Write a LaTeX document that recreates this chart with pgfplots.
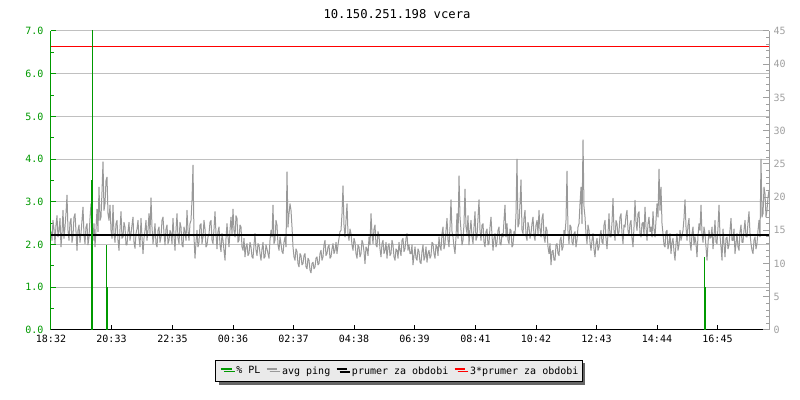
\documentclass[border=0pt]{standalone}
\usepackage{pgfplots}
\pgfplotsset{compat=1.18}
\usepackage{pgfplotstable}
\usepackage{fontspec}
\setmainfont{DejaVu Sans Mono}
\usetikzlibrary{shadows}
\definecolor{plgreen}{HTML}{009900}
\definecolor{pinggray}{HTML}{999999}
\definecolor{gridgray}{HTML}{C0C0C0}
\definecolor{axgray}{HTML}{A0A0A0}
\definecolor{legendbg}{HTML}{EAEAEA}
\definecolor{shadowgray}{HTML}{666666}

\pgfplotstableread[row sep=\\]{v\\
14.8\\13.5\\16.5\\15.2\\13.0\\15.8\\17.2\\14.0\\15.0\\16.8\\12.5\\14.6\\18.0\\13.8\\15.5\\17.6\\20.3\\15.0\\13.5\\16.2\\16.8\\13.2\\14.2\\17.0\\17.5\\14.8\\12.0\\15.0\\15.8\\13.2\\14.5\\16.5\\18.5\\14.2\\13.0\\15.5\\16.0\\12.8\\14.0\\16.8\\19.0\\15.5\\13.5\\16.0\\12.5\\15.2\\18.2\\14.8\\21.5\\16.5\\17.0\\20.8\\25.3\\18.0\\19.0\\22.5\\23.0\\17.5\\16.5\\18.8\\
15.0\\13.8\\18.8\\14.5\\13.2\\16.0\\16.5\\13.5\\12.0\\15.2\\17.8\\13.8\\14.0\\16.2\\15.5\\12.8\\12.8\\14.8\\16.2\\13.5\\14.5\\15.8\\17.0\\13.2\\12.3\\14.5\\15.2\\16.5\\13.8\\12.5\\16.8\\14.0\\11.5\\13.8\\15.0\\16.5\\13.5\\15.0\\17.5\\14.5\\19.9\\15.5\\13.0\\14.2\\16.0\\13.0\\12.5\\15.0\\15.5\\13.2\\14.0\\16.5\\17.0\\14.5\\12.8\\15.2\\15.8\\13.0\\13.5\\15.0\\
14.5\\13.0\\16.8\\14.2\\12.0\\15.0\\17.5\\13.8\\13.0\\16.2\\15.5\\12.8\\12.5\\15.5\\14.8\\13.5\\18.0\\15.0\\13.5\\16.0\\16.5\\19.5\\24.8\\14.0\\10.8\\13.2\\15.0\\12.5\\13.2\\15.8\\16.0\\13.0\\14.0\\16.5\\15.2\\12.5\\12.8\\14.0\\14.5\\16.2\\16.5\\13.5\\13.0\\15.2\\17.8\\14.5\\12.2\\14.8\\15.5\\12.8\\11.8\\14.5\\13.5\\12.0\\10.5\\13.8\\16.0\\14.0\\12.5\\15.0\\
17.0\\14.5\\18.2\\15.0\\14.0\\17.2\\16.8\\13.2\\13.5\\15.8\\15.5\\12.5\\12.0\\13.8\\11.0\\12.5\\13.0\\11.2\\11.5\\13.2\\12.5\\11.0\\10.8\\12.8\\14.5\\12.0\\11.2\\13.0\\12.8\\11.5\\10.5\\12.2\\13.2\\10.8\\11.0\\12.8\\12.2\\11.5\\10.8\\13.5\\15.0\\14.0\\18.8\\13.0\\13.5\\16.5\\15.8\\12.8\\12.0\\14.0\\13.0\\11.8\\11.5\\13.2\\14.0\\12.5\\23.8\\15.5\\17.5\\19.0\\
18.0\\15.5\\12.5\\11.0\\10.5\\12.2\\11.8\\10.0\\9.5\\11.5\\11.2\\9.8\\10.0\\11.2\\11.5\\9.5\\9.2\\10.8\\10.5\\9.0\\8.6\\10.0\\10.2\\9.2\\9.5\\10.8\\11.0\\9.8\\10.0\\11.5\\12.0\\10.5\\11.0\\12.8\\13.5\\11.2\\11.5\\12.5\\12.8\\10.8\\11.0\\12.2\\13.0\\11.5\\12.0\\13.2\\11.5\\12.8\\13.8\\14.8\\15.0\\17.5\\21.7\\15.8\\14.0\\16.5\\19.0\\14.5\\13.5\\15.2\\
14.5\\12.8\\12.0\\13.8\\13.2\\11.5\\10.8\\12.8\\12.5\\11.0\\11.5\\13.5\\13.0\\11.8\\10.0\\12.5\\12.2\\11.2\\14.0\\12.8\\17.5\\14.5\\13.0\\15.2\\15.8\\12.8\\12.5\\14.8\\14.2\\12.2\\11.0\\13.0\\13.5\\11.5\\12.0\\13.2\\10.8\\12.5\\13.0\\11.2\\11.5\\13.5\\12.8\\11.0\\10.5\\12.2\\12.0\\10.8\\13.2\\12.0\\11.2\\13.5\\13.8\\11.8\\12.2\\13.8\\14.5\\12.0\\12.8\\11.5\\
11.5\\12.8\\9.8\\11.2\\12.5\\10.8\\10.5\\12.2\\11.8\\10.2\\10.0\\11.8\\12.8\\10.5\\11.0\\12.5\\10.2\\11.5\\12.0\\10.8\\11.2\\13.2\\13.0\\11.5\\10.8\\12.8\\12.5\\11.2\\14.0\\12.5\\12.0\\14.5\\15.5\\12.2\\13.0\\15.0\\16.8\\13.5\\12.5\\15.5\\19.6\\14.8\\14.0\\12.5\\11.5\\14.0\\17.5\\13.8\\23.2\\17.0\\15.0\\12.8\\13.5\\16.0\\21.2\\15.5\\14.5\\17.2\\12.8\\15.0\\
16.5\\14.0\\13.0\\15.5\\17.8\\13.5\\14.0\\16.8\\19.6\\15.0\\13.5\\15.8\\16.0\\13.2\\12.5\\14.8\\15.2\\12.8\\13.0\\15.5\\17.0\\14.2\\12.0\\13.8\\14.5\\12.5\\13.2\\15.0\\15.5\\13.0\\12.8\\14.5\\14.0\\16.5\\18.8\\14.0\\16.0\\13.5\\13.0\\15.2\\15.0\\12.5\\12.8\\14.8\\14.2\\17.5\\25.7\\15.5\\16.0\\19.0\\22.6\\15.0\\14.5\\16.8\\18.0\\14.2\\13.5\\16.2\\15.5\\13.8\\
14.5\\16.0\\17.0\\14.2\\13.5\\15.8\\16.5\\14.5\\18.0\\15.2\\14.0\\16.8\\17.5\\14.0\\13.2\\15.5\\15.0\\12.5\\11.5\\13.0\\9.8\\11.8\\12.0\\10.5\\10.5\\12.8\\13.0\\11.5\\11.2\\13.5\\14.0\\12.0\\12.5\\15.0\\14.5\\16.5\\23.9\\14.8\\13.0\\15.8\\15.5\\13.2\\12.8\\14.5\\14.8\\12.5\\13.5\\15.5\\16.0\\19.0\\21.5\\16.0\\28.6\\18.5\\17.0\\14.5\\13.0\\15.8\\15.0\\13.2\\
12.0\\13.5\\14.5\\12.2\\11.0\\13.0\\13.8\\12.0\\12.5\\14.2\\15.0\\13.2\\13.0\\15.8\\16.5\\13.8\\12.2\\14.5\\17.5\\14.0\\14.0\\16.2\\19.8\\15.0\\13.5\\16.5\\16.0\\14.2\\14.8\\17.0\\17.5\\14.5\\13.0\\15.8\\15.5\\17.2\\18.0\\15.0\\14.2\\16.0\\16.5\\13.8\\12.5\\15.5\\19.5\\16.2\\15.0\\17.5\\17.8\\14.5\\14.0\\16.0\\16.2\\14.2\\18.5\\15.5\\13.5\\16.0\\17.0\\14.8\\
15.5\\14.0\\17.8\\15.2\\14.0\\16.5\\19.0\\17.0\\24.2\\18.0\\21.5\\16.0\\14.5\\12.8\\12.5\\14.8\\15.0\\12.2\\13.0\\14.5\\11.5\\13.2\\13.8\\11.8\\10.5\\13.0\\14.5\\12.0\\12.8\\15.0\\13.5\\14.2\\15.0\\16.8\\19.6\\15.5\\13.5\\15.8\\16.8\\13.2\\12.0\\14.5\\15.5\\12.8\\14.0\\13.0\\11.0\\14.2\\16.0\\15.0\\18.8\\14.5\\13.2\\15.5\\14.5\\12.5\\10.5\\13.0\\15.0\\13.8\\
14.0\\15.5\\12.2\\14.0\\16.5\\13.2\\13.0\\15.5\\18.8\\14.2\\12.5\\10.5\\15.2\\13.0\\11.0\\13.8\\14.0\\12.2\\12.8\\15.0\\16.8\\13.5\\13.5\\15.2\\11.5\\13.0\\14.5\\12.5\\12.0\\14.8\\15.8\\13.2\\13.2\\15.0\\16.5\\14.0\\14.0\\16.2\\17.8\\14.5\\13.0\\12.0\\11.5\\13.5\\14.0\\12.2\\13.0\\15.0\\16.5\\14.0\\25.7\\17.0\\17.5\\21.5\\20.5\\17.0\\18.0\\20.0\\21.0\\19.0\\
}\pingdata

\pgfplotsset{
  common/.style={
    width=718bp, height=299bp, scale only axis,
    at={(51bp,70bp)}, anchor=south west,
    xmin=0, xmax=1436,
    /pgf/number format/assume math mode=true,
    ticklabel style={font=\fontsize{10bp}{12bp}\selectfont},
    tick align=inside,
  }
}

\begin{document}
\begin{tikzpicture}
\useasboundingbox (0,0) rectangle (800bp,400bp);

% left axis with grid
\begin{axis}[common,
  ymin=0, ymax=7,
  axis x line*=bottom, axis y line*=left,
  x axis line style={black, line width=1bp, -},
  y axis line style={plgreen, line width=1bp, -},
  xtick={0,121,243,364,485,606,727,849,970,1091,1212,1333},
  xticklabels={18:32,20:33,22:35,00:36,02:37,04:38,06:39,08:41,10:42,12:43,14:44,16:45},
  ytick={0,1,...,7},
  minor ytick={0.5,1.5,...,6.5},
  yticklabel={\pgfmathprintnumber[fixed,fixed zerofill,precision=1]{\tick}},
  yticklabel style={text=plgreen, xshift=-4bp},
  xticklabel style={text=black, yshift=-2bp},
  major tick length=5bp, minor tick length=3.5bp,
  y tick style={plgreen, line width=1bp},
  x tick style={black, line width=1bp},
  ymajorgrids, grid style={gridgray, line width=1bp},
]
\addplot[draw=none] coordinates {(0,0)};
\end{axis}

% right axis: ping
\begin{axis}[common,
  ymin=0, ymax=45,
  axis y line*=right, axis x line=none,
  y axis line style={axgray, line width=1bp, -},
  ytick={0,5,...,45},
  minor y tick num=4,
  yticklabel style={text=axgray, xshift=1bp},
  y tick style={axgray, line width=1bp},
  major tick length=6bp, minor tick length=3.5bp,
  legend columns=4,
  legend cell align=left,
  legend image code/.code={\draw[#1, line width=2.5bp] (0bp,2.2bp) -- (10.7bp,2.2bp);},
  legend style={at={(0.4847,-0.137)}, anchor=center,
    draw=black, line width=1bp, fill=legendbg,
    drop shadow={shadow xshift=3bp, shadow yshift=-3bp, fill=shadowgray, opacity=1},
    font=\fontsize{10bp}{12bp}\selectfont,
    nodes={inner sep=0bp},
    inner xsep=4bp, inner ysep=6bp,
    /tikz/every odd column/.append style={column sep=3.5bp},
    /tikz/every even column/.append style={column sep=5bp}},
]
\addlegendimage{plgreen}
\addlegendentry{\% PL}
\addplot[pinggray, line width=1bp, line join=round, no marks] table[x expr=\coordindex*2, y=v] {\pingdata};
\addlegendentry{avg ping}
\addplot[black, line width=2bp, no marks] coordinates {(0,14.23) (1436,14.23)};
\addlegendentry{prumer za obdobi}
\addplot[red, line width=1.3bp, no marks] coordinates {(0,42.7) (1436,42.7)};
\addlegendentry{3*prumer za obdobi}
\end{axis}

% packet loss on top
\begin{axis}[common, ymin=0, ymax=7, hide axis]
\addplot[ycomb, plgreen, line width=1.5bp, no marks] coordinates {
  (81,3.5) (82.6,7.5) (110.6,2.0) (112.4,1.0) (1306.6,1.71) (1308.4,1.0)
};
\end{axis}

\node[font=\fontsize{12.2bp}{14bp}\selectfont] at (397bp,386bp) {10.150.251.198 vcera};
\end{tikzpicture}
\end{document}
